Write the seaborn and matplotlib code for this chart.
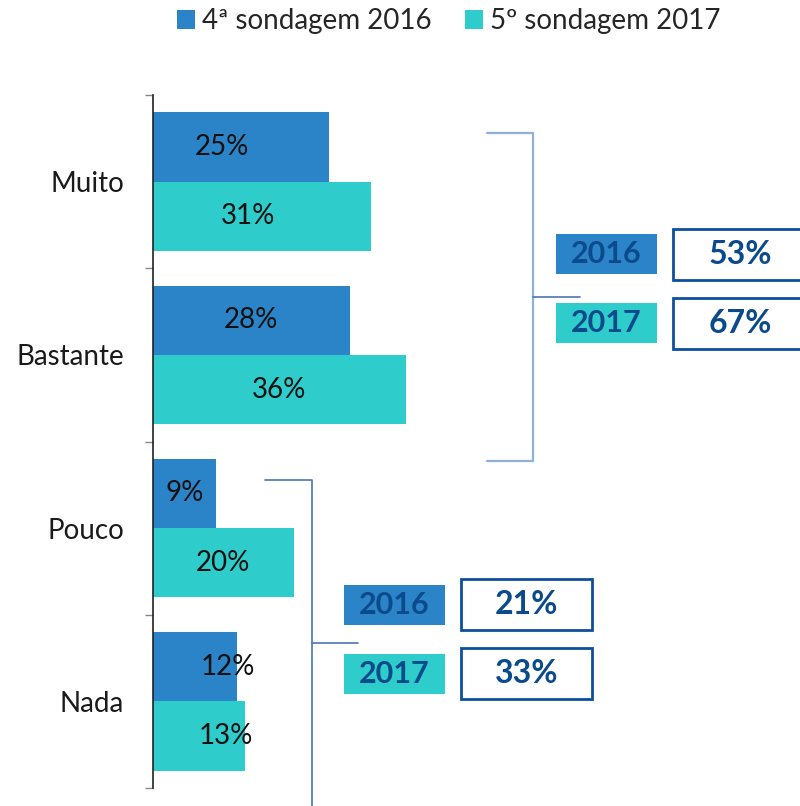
import matplotlib
matplotlib.use("Agg")
import matplotlib.pyplot as plt
from matplotlib.patches import Rectangle
from matplotlib.lines import Line2D
import pandas as pd
import seaborn as sns

# data
categories = ["Muito", "Bastante", "Pouco", "Nada"]
series = ["4ª sondagem 2016", "5º sondagem 2017"]
vals_2016 = [25, 28, 9, 12]
vals_2017 = [31, 36, 20, 13]
# grouped totals (Muito+Bastante, Pouco+Nada)
group_years = ["2016", "2017"]
top_totals = ["53%", "67%"]
bottom_totals = ["21%", "33%"]

# where the value labels sit inside the bars (in % units)
label_x_2016 = [9.8, 13.9, 4.5, 10.7]
label_x_2017 = [13.5, 17.9, 9.9, 10.4]

c2016 = "#2B84C8"
c2017 = "#2ECDCC"
navy = "#0B4A8B"

sns.set_theme(style="white")
plt.rcParams["font.family"] = ["Lato", "DejaVu Sans"]

df = pd.DataFrame({
    "cat": categories * 2,
    "serie": [series[0]] * 4 + [series[1]] * 4,
    "val": vals_2016 + vals_2017,
})

W, H = 800, 806
fig = plt.figure(figsize=(W / 100, H / 100), dpi=100)
ax = fig.add_axes([153 / W, 18 / H, 647 / W, 693 / H])

sns.barplot(data=df, y="cat", x="val", hue="serie", orient="h",
            palette=[c2016, c2017], linewidth=0, saturation=1, ax=ax)

ax.set_xlim(0, 647 / 7.04)
ax.set_ylim(3.5, -0.5)
ax.set_xlabel("")
ax.set_ylabel("")
ax.set_xticks([])
for s in ["top", "right", "bottom"]:
    ax.spines[s].set_visible(False)
ax.spines["left"].set_color("#222222")
ax.spines["left"].set_linewidth(1.2)

ax.set_yticks(range(4))
ax.set_yticklabels(categories, fontsize=20, color="#1a1a1a")
ax.set_yticks([i - 0.5 for i in range(5)], minor=True)
ax.tick_params(axis="y", which="major", length=0, pad=21)
ax.tick_params(axis="y", which="minor", left=True, length=6, width=1, color="#888888")

# labels in the bars
for i in range(4):
    ax.text(label_x_2016[i], i - 0.2, f"{vals_2016[i]}%", ha="center", va="center",
            fontsize=20, color="#111111")
    ax.text(label_x_2017[i], i + 0.2, f"{vals_2017[i]}%", ha="center", va="center",
            fontsize=20, color="#111111")

# legend on top
sns.move_legend(ax, "upper center", bbox_to_anchor=(449 / W, 1 + 17 / H),
                bbox_transform=fig.transFigure, ncol=2, frameon=False, title=None,
                fontsize=20, handlelength=0.65, handleheight=0.65,
                handletextpad=0.25, columnspacing=1.2)


def fx(px):
    return px / W


def fy(py):
    return 1 - py / H


def line(xs, ys, color, lw):
    fig.add_artist(Line2D([fx(x) for x in xs], [fy(y) for y in ys],
                          color=color, lw=lw, transform=fig.transFigure,
                          clip_on=False))


def year_box(x0, y0, w, h, color, text):
    fig.add_artist(Rectangle((fx(x0), fy(y0 + h)), w / W, h / H, transform=fig.transFigure,
                             facecolor=color, edgecolor="none"))
    fig.text(fx(x0 + w / 2), fy(y0 + h / 2), text, ha="center", va="center",
             fontsize=22, fontweight="bold", color=navy)


def total_box(x0, y0, w, h, text):
    fig.add_artist(Rectangle((fx(x0), fy(y0 + h)), w / W, h / H, transform=fig.transFigure,
                             facecolor="white", edgecolor="#0F4E9C", lw=2))
    fig.text(fx(x0 + w / 2), fy(y0 + h / 2), text, ha="center", va="center",
             fontsize=23, fontweight="bold", color=navy)


# upper bracket (Muito + Bastante)
line([487, 533, 533, 487], [133, 133, 461, 461], "#8FB0D8", 1.6)
line([533, 580], [297, 297], "#4A75B5", 1.2)
year_box(556, 234, 101, 40, c2016, group_years[0])
year_box(556, 303, 101, 40, c2017, group_years[1])
total_box(673, 229, 135, 51, top_totals[0])
total_box(673, 298, 135, 51, top_totals[1])

# lower bracket (Pouco + Nada)
line([265, 312, 312], [480, 480, 810], "#4A75B5", 1.2)
line([312, 358], [643, 643], "#4A75B5", 1.2)
year_box(344, 585, 101, 40, c2016, group_years[0])
year_box(344, 654, 101, 40, c2017, group_years[1])
total_box(461, 579, 131, 51, bottom_totals[0])
total_box(461, 648, 131, 51, bottom_totals[1])

fig.savefig("out.png", dpi=100)
